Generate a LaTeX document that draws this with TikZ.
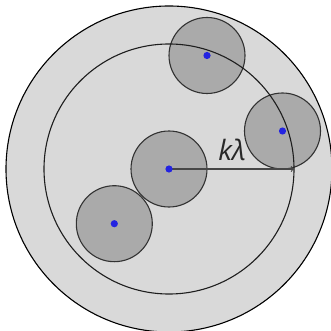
\documentclass[tikz,border=0pt]{standalone}
\usepackage{fontspec}
\newfontfamily\lblfont{Open Sans}
\begin{document}
\begin{tikzpicture}[x=1pt,y=-1pt,
  outer/.style={draw=black,line width=1.1pt,fill={rgb,255:red,217;green,217;blue,217}},
  ball/.style={draw={rgb,255:red,50;green,50;blue,50},line width=1.1pt,fill={rgb,255:red,170;green,170;blue,170}},
  ring/.style={draw={rgb,255:red,30;green,30;blue,30},line width=1.1pt},
  dotc/.style={fill={rgb,255:red,35;green,35;blue,225}},
  arr/.style={draw={rgb,255:red,70;green,70;blue,70},line width=1.1pt,->}]
\useasboundingbox (0,0) rectangle (331,331);
\begin{scope}
\clip (0,0) rectangle (331,331);
\fill[outer] (169,169) circle (163);
\end{scope}
\coordinate (c0) at (169,169);
\coordinate (c1) at (207,55.5);
\coordinate (c2) at (282.5,131);
\coordinate (c3) at (114.3,223.7);
\coordinate (tip) at (294,169);
\foreach \c in {c0,c1,c2,c3} \filldraw[ball] (\c) circle (38);
\draw[ring] (c0) circle (125);
\draw[arr] (c0) -- (tip);
\node[text={rgb,255:red,40;green,40;blue,40}] (lbl) at (232,150) {\lblfont\fontsize{28}{32}\selectfont\itshape kλ};
\foreach \c in {c0,c1,c2,c3} \fill[dotc] (\c) circle (3.6);
\end{tikzpicture}
\end{document}
